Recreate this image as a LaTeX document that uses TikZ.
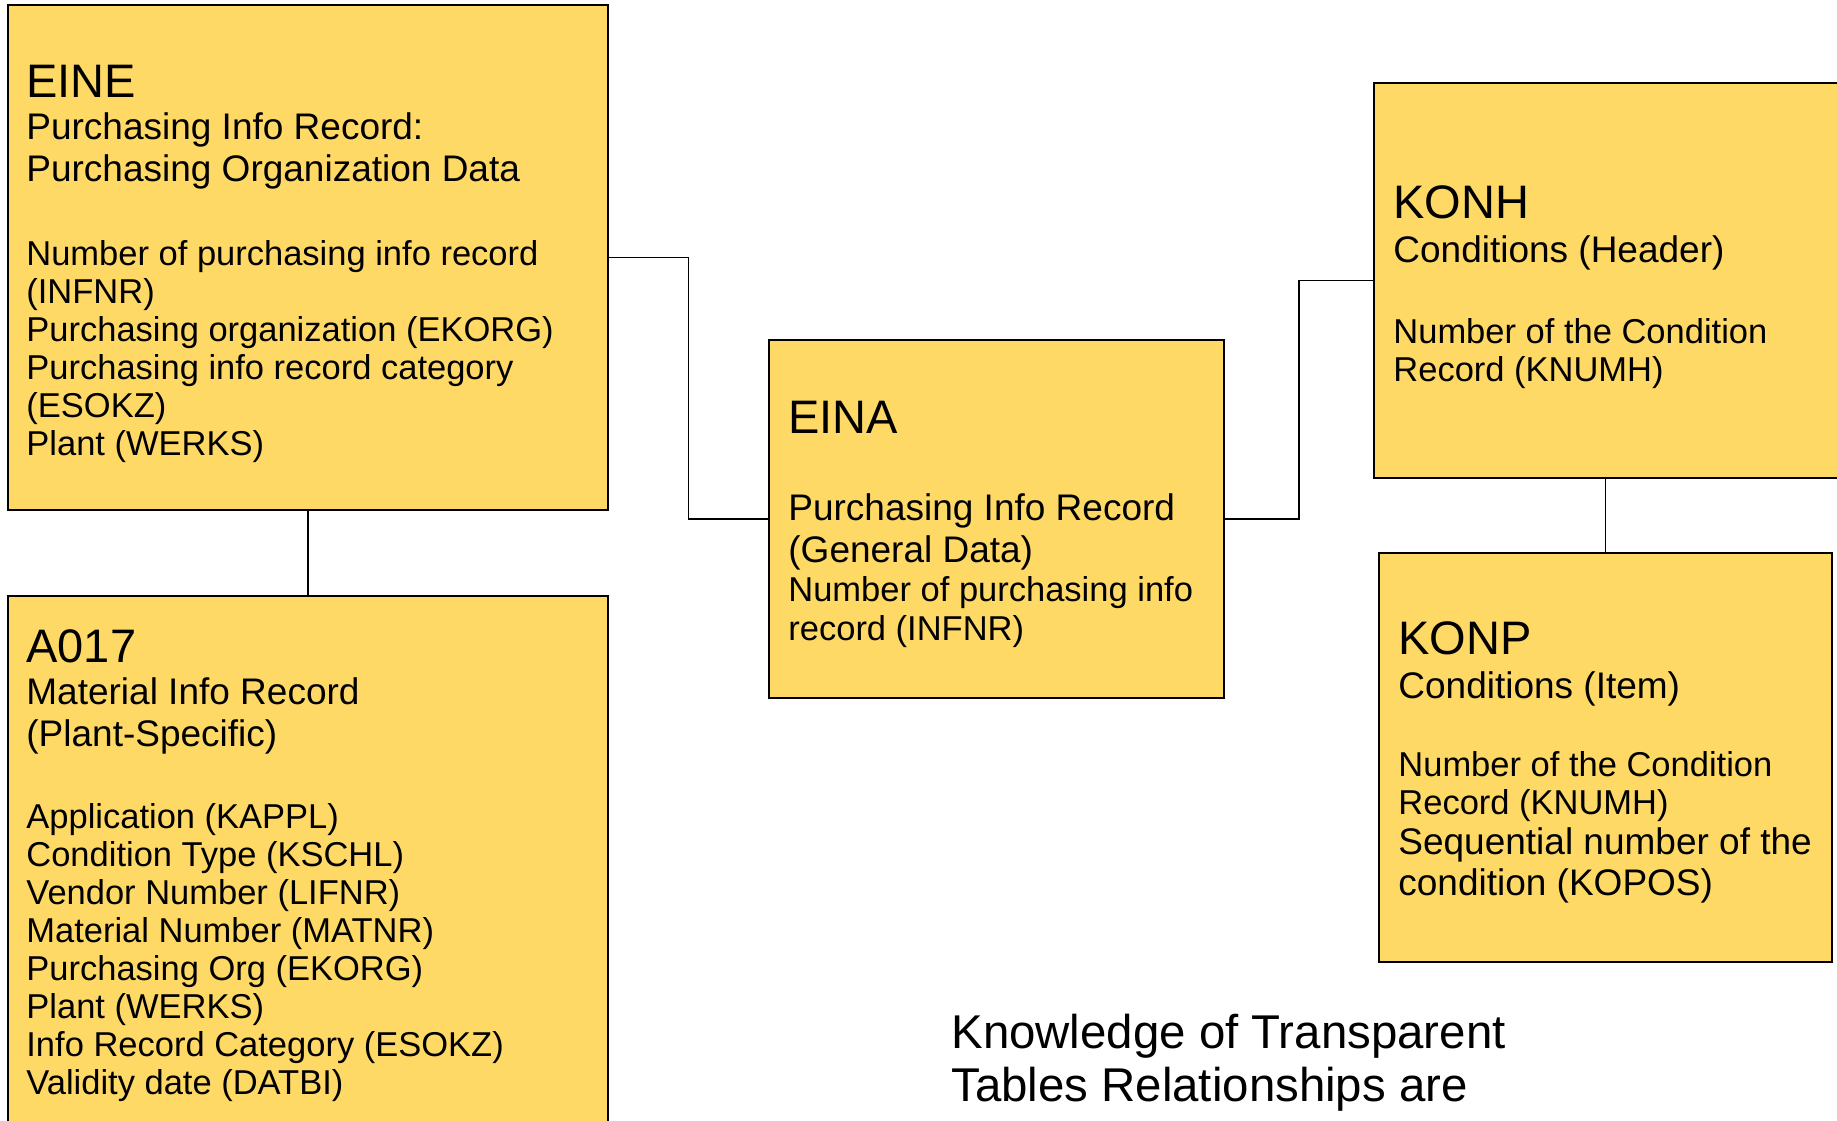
\documentclass[tikz,border=0pt]{standalone}
\usepackage{fontspec}
\setmainfont{Liberation Sans}
\usetikzlibrary{calc}
\definecolor{boxyellow}{HTML}{FFD966}
\begin{document}
\begin{tikzpicture}[x=0.5pt,y=-0.5pt,
  tbl/.style={draw=black, line width=1pt, fill=boxyellow, rectangle, inner sep=0pt, outer sep=0pt},
  ttl/.style={anchor=base west, inner sep=0pt, font=\fontsize{23.5pt}{26pt}\selectfont},
  subt/.style={anchor=base west, inner sep=0pt, align=left, font=\fontsize{18.5pt}{21pt}\selectfont},
  body/.style={anchor=base west, inner sep=0pt, align=left, font=\fontsize{17.25pt}{19pt}\selectfont},
  link/.style={draw=black, line width=0.8pt}]
\useasboundingbox (0,0) rectangle (1837,1120);
\clip (0,0) rectangle (1837,1120);
\fill[white] (0,0) rectangle (1837,1120);

% tables
\node[tbl, minimum width=300pt, minimum height=252.5pt] (eine) at (308,257.5) {};
\node[tbl, minimum width=300pt, minimum height=272pt] (a017) at (308,868) {};
\node[tbl, minimum width=227.5pt, minimum height=179pt] (eina) at (996.5,519) {};
\node[tbl, minimum width=233pt, minimum height=197.5pt] (konh) at (1607,280.5) {};
\node[tbl, minimum width=226.5pt, minimum height=204.5pt] (konp) at (1605.5,757.5) {};

% connectors
\draw[link] (eine.east) -| ($(eine.east)!0.5!(eina.west)$) |- (eina.west);
\draw[link] (eina.east) -| ($(eina.east)!0.5!(konh.west)$) |- (konh.west);
\draw[link] (eine.south) -- (a017.north);
\draw[link] (konh.south -| konp.north) -- (konp.north);

% multi-line nodes are anchored at the baseline of their LAST line
% EINE
\node[ttl] (eine-t) at (26,97) {EINE};
\node[subt] (eine-s) at (26,181) {Purchasing Info Record:\\Purchasing Organization Data};
\node[body] (eine-b) at (26,455) {Number of purchasing info record\\(INFNR)\\Purchasing organization (EKORG)\\Purchasing info record category\\(ESOKZ)\\Plant (WERKS)};

% A017
\node[ttl] (a017-t) at (26,662) {A017};
\node[subt] (a017-s) at (26,746) {Material Info Record\\(Plant-Specific)};
\node[body] (a017-b) at (26,1094) {Application (KAPPL)\\Condition Type (KSCHL)\\Vendor Number (LIFNR)\\Material Number (MATNR)\\Purchasing Org (EKORG)\\Plant (WERKS)\\Info Record Category (ESOKZ)\\Validity date (DATBI)};

% EINA
\node[ttl] (eina-t) at (788,433) {EINA};
\node[subt] (eina-s) at (788,562) {Purchasing Info Record\\(General Data)};
\node[body, font=\fontsize{17.25pt}{19.5pt}\selectfont] (eina-b) at (788,640) {Number of purchasing info\\record (INFNR)};

% KONH
\node[ttl] (konh-t) at (1393,218) {KONH};
\node[subt] (konh-s) at (1393,262) {Conditions (Header)};
\node[body] (konh-b) at (1393,381) {Number of the Condition\\Record (KNUMH)};

% KONP
\node[ttl] (konp-t) at (1398,654) {KONP};
\node[subt] (konp-s) at (1398,698) {Conditions (Item)};
\node[body] (konp-b) at (1398,814) {Number of the Condition\\Record (KNUMH)};
\node[subt, font=\fontsize{18.5pt}{20.5pt}\selectfont] (konp-c) at (1398,895) {Sequential number of the\\condition (KOPOS)};

% note
\node[anchor=base west, inner sep=0pt, align=left, font=\fontsize{23.7pt}{26.5pt}\selectfont] (note) at (951,1101) {Knowledge of Transparent\\Tables Relationships are};
\end{tikzpicture}
\end{document}
